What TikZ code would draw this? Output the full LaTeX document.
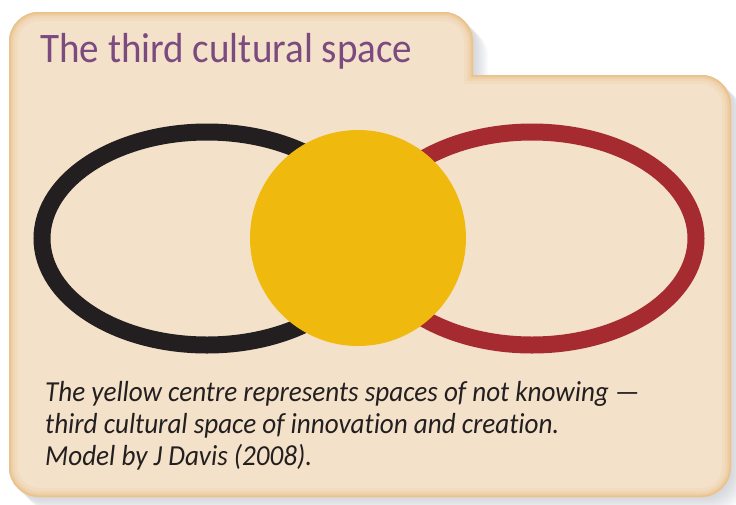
\documentclass[tikz,border=0pt]{standalone}
\usepackage{fontspec}
\setmainfont{Carlito}
\newfontfamily\titlefont{Carlito}[FakeStretch=0.93]
\newfontfamily\capfont{Carlito}[FakeStretch=0.935,Ligatures=NoCommon]
\definecolor{peach}{HTML}{F4E1C9}
\definecolor{tanedge}{HTML}{E9C28C}
\definecolor{shadowgrey}{HTML}{7E8596}
\definecolor{ringblack}{HTML}{231F20}
\definecolor{ringred}{HTML}{A62B31}
\definecolor{sunyellow}{HTML}{F0B90E}
\definecolor{titlepurple}{HTML}{7B4A7F}
\definecolor{captext}{HTML}{231F20}
\def\cardshape{(9,467) -- (9,42) .. controls (9,25.4) and (22.4,12) .. (39,12) -- (443,12) .. controls (459.6,12) and (473,25.4) .. (473,42) -- (473,75) -- (701,75) .. controls (717.6,75) and (731,88.4) .. (731,105) -- (731,467) .. controls (731,483.6) and (717.6,497) .. (701,497) -- (39,497) .. controls (22.4,497) and (9,483.6) .. (9,467) -- cycle}
\tikzset{
  ring/.style={line width=17pt},
  titletext/.style={anchor=base west, inner sep=0pt, text=titlepurple, font=\titlefont\fontsize{42}{48}\selectfont},
  captiontext/.style={anchor=base west, inner sep=0pt, text=captext, font=\capfont\itshape\fontsize{29}{34}\selectfont}
}
\begin{document}
\begin{tikzpicture}[x=1pt,y=-1pt]
\useasboundingbox (0,0) rectangle (736,504);
% shadow
\foreach \i in {1,...,14}{
  \fill[shadowgrey,opacity=0.028,shift={(\i*1.1,\i*1.1)}] \cardshape;
}
% card with soft edge
\begin{scope}
  \clip \cardshape;
  \fill[peach] \cardshape;
  \draw[line width=18pt,tanedge!15!peach] \cardshape;
  \draw[line width=12pt,tanedge!35!peach] \cardshape;
  \draw[line width=7pt,tanedge!65!peach] \cardshape;
  \draw[line width=3pt,tanedge] \cardshape;
\end{scope}
% title
\node[titletext] (title) at (40,62) {The third cultural space};
% rings
\draw[ring,ringblack] (207,238.5) ellipse [x radius=165, y radius=106.5];
\draw[ring,ringred] (532,238.5) ellipse [x radius=164, y radius=106.5];
\fill[sunyellow] (358,238) circle [radius=108];
% caption
\node[captiontext] (cap1) at (45,401.5) {The yellow centre represents spaces of not knowing —};
\node[captiontext] (cap2) at (45,433.5) {third cultural space of innovation and creation.};
\node[captiontext] (cap3) at (45,465.5) {Model by J Davis (2008).};
\end{tikzpicture}
\end{document}
